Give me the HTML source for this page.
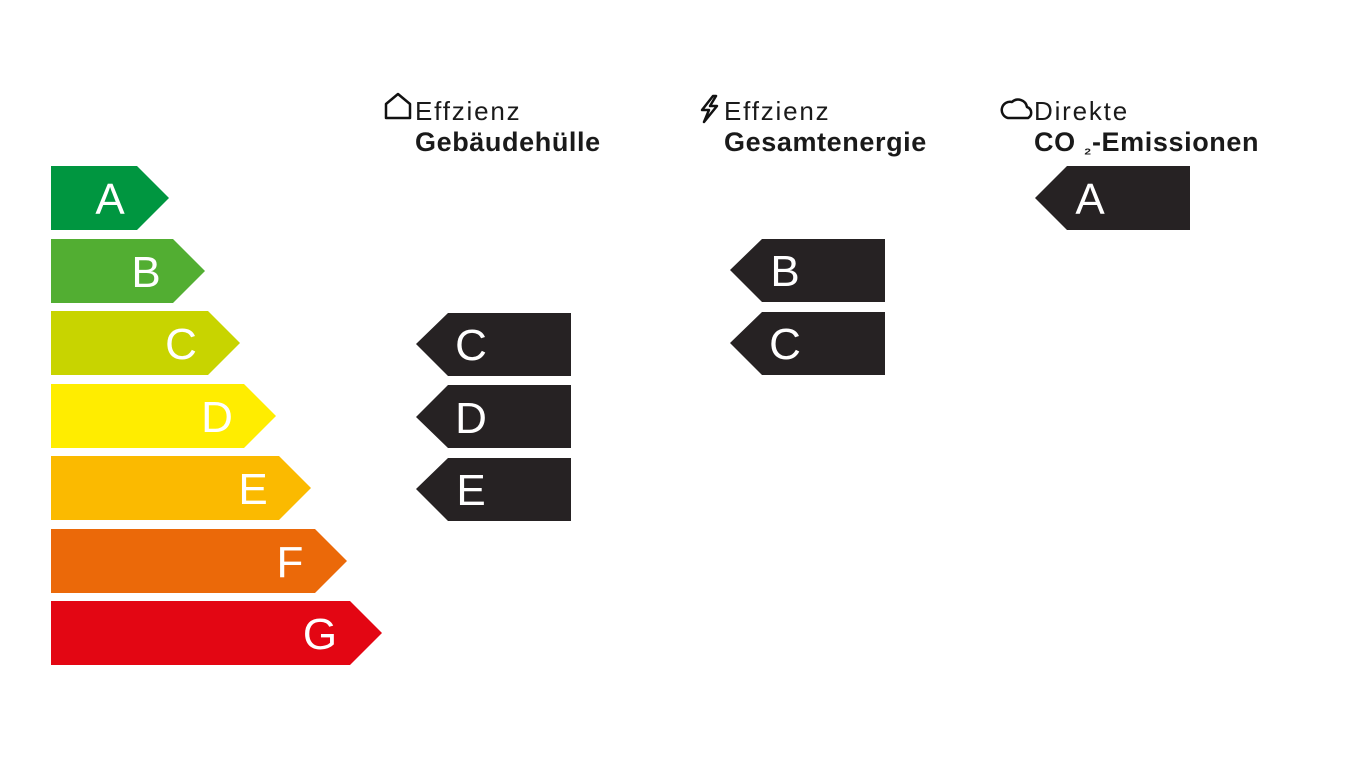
<!DOCTYPE html>
<html><head><meta charset="utf-8"><style>
body{margin:0;width:1367px;height:769px;background:#fff;overflow:hidden;position:relative;font-family:"Liberation Sans",sans-serif}
svg{position:absolute;left:0;top:0}
.h{position:absolute;font-size:26px;color:#1a1a1a;line-height:31px;letter-spacing:1.8px}
.h b{display:block;font-size:27px;letter-spacing:0.6px}
</style></head><body>
<svg width="1367" height="769" font-family="Liberation Sans, sans-serif" font-size="44" fill="#fff" text-anchor="middle">
<polygon points="51,166 137,166 169,198 137,230 51,230" fill="#009640"/>
<polygon points="51,239 173,239 205,271 173,303 51,303" fill="#52ae32"/>
<polygon points="51,311 208,311 240,343 208,375 51,375" fill="#c8d400"/>
<polygon points="51,384 244,384 276,416 244,448 51,448" fill="#ffed00"/>
<polygon points="51,456 279,456 311,488 279,520 51,520" fill="#fbba00"/>
<polygon points="51,529 315,529 347,561 315,593 51,593" fill="#eb6909"/>
<polygon points="51,601 350,601 382,633 350,665 51,665" fill="#e30613"/>
<text x="110" y="214">A</text><text x="146" y="287">B</text><text x="181" y="359">C</text>
<text x="217" y="432">D</text><text x="253" y="504">E</text><text x="290" y="577">F</text><text x="320" y="649">G</text>
<g fill="#262223">
<polygon points="416,344 448,313 571,313 571,376 448,376"/>
<polygon points="416,417 448,385 571,385 571,448 448,448"/>
<polygon points="416,489 448,458 571,458 571,521 448,521"/>
<polygon points="730,270 762,239 885,239 885,302 762,302"/>
<polygon points="730,343 762,312 885,312 885,375 762,375"/>
<polygon points="1035,198 1067,166 1190,166 1190,230 1067,230"/>
</g>
<text x="471" y="360">C</text><text x="471" y="433">D</text><text x="471" y="505">E</text>
<text x="785" y="286">B</text><text x="785" y="359">C</text><text x="1090" y="214">A</text>
<g fill="none" stroke="#111" stroke-width="2.5" stroke-linejoin="round">
<path d="M386,118 V104 L398,94 L410,104 V118 Z"/>
<path d="M713,96 L702,110 H709 L704,122 L717,106 H710 L716,96 Z"/>
<path d="M1008,118 H1028 A6,6 0 0 0 1027,107 A9,9 0 0 0 1012,102 A7,7 0 0 0 1008,118 Z"/>
</g>
</svg>
<div class="h" style="left:415px;top:96px">Effzienz<b>Gebäudehülle</b></div>
<div class="h" style="left:724px;top:96px">Effzienz<b>Gesamtenergie</b></div>
<div class="h" style="left:1034px;top:96px">Direkte<b>CO <span style="font-size:17px;position:relative;top:3px">₂</span>-Emissionen</b></div>
</body></html>
